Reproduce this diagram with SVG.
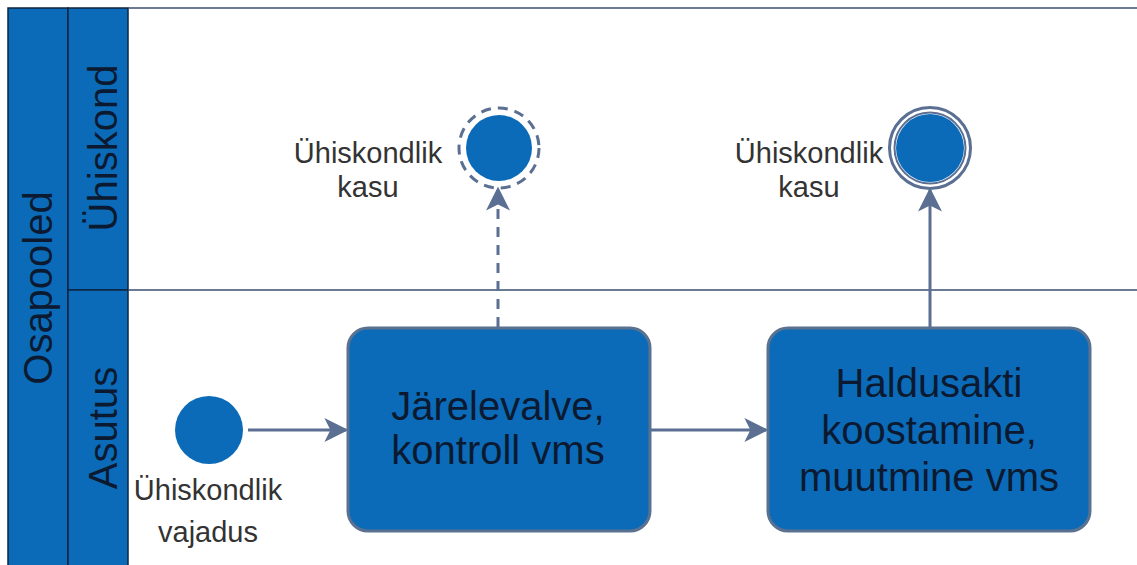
<svg xmlns="http://www.w3.org/2000/svg" width="1137" height="565" viewBox="0 0 1137 565">
<defs>
<style>
.band{fill:#0b6bb8;stroke:#0e2441;stroke-width:1.5}
.lane{fill:none;stroke:#3a4f72;stroke-width:1.5}
.lbl{font-family:"Liberation Sans",Arial,sans-serif;fill:#0b1a30;text-anchor:middle;font-size:40px}
.ext{font-family:"Liberation Sans",Arial,sans-serif;fill:#333;font-size:29px;text-anchor:middle}
.task{fill:#0b6bb8;stroke:#5a7290;stroke-width:3}
.tt{font-family:"Liberation Sans",Arial,sans-serif;fill:#0b1a30;font-size:40px;text-anchor:middle}
.ev{fill:#0b6bb8}
.flow{stroke:#5b6f92;stroke-width:3;fill:none}
</style>
<marker id="ahb" viewBox="0 0 10 10" refX="9" refY="5" markerWidth="24" markerHeight="24" markerUnits="userSpaceOnUse" orient="auto">
<path d="M0,0 L10,5 L0,10 L2.5,5 Z" fill="#5b6f92"/>
</marker>
</defs>
<rect width="1137" height="565" fill="#ffffff"/>
<g id="pool">
<rect class="band" x="8" y="8" width="60" height="570"/>
<rect class="band" x="68" y="8" width="60" height="282"/>
<rect class="band" x="68" y="290" width="60" height="288"/>
<line class="lane" x1="128" y1="8" x2="1137" y2="8"/>
<line class="lane" x1="128" y1="290" x2="1137" y2="290"/>
<text class="lbl" transform="translate(52,288) rotate(-90)">Osapooled</text>
<text class="lbl" transform="translate(117,148) rotate(-90)">Ühiskond</text>
<text class="lbl" transform="translate(117,428) rotate(-90)">Asutus</text>
</g>
<g id="connectors">
<line class="flow" x1="248" y1="430" x2="346" y2="430" marker-end="url(#ahb)"/>
<line class="flow" x1="651" y1="430" x2="766" y2="430" marker-end="url(#ahb)"/>
<line class="flow" x1="498" y1="327" x2="498" y2="189" stroke-dasharray="10,8" marker-end="url(#ahb)"/>
<line class="flow" x1="930" y1="327" x2="930" y2="190" marker-end="url(#ahb)"/>
</g>
<g id="start">
<circle class="ev" cx="209" cy="430" r="34"/>
<text class="ext" x="208" y="500">Ühiskondlik</text>
<text class="ext" x="208" y="542">vajadus</text>
</g>
<g id="task1">
<rect class="task" x="348" y="328" width="302" height="203" rx="20"/>
<text class="tt" x="498" y="420">Järelevalve,</text>
<text class="tt" x="498" y="464">kontroll vms</text>
</g>
<g id="task2">
<rect class="task" x="768" y="328" width="322" height="203" rx="20"/>
<text class="tt" x="929" y="397">Haldusakti</text>
<text class="tt" x="929" y="444">koostamine,</text>
<text class="tt" x="929" y="491">muutmine vms</text>
</g>
<g id="end1">
<circle cx="499" cy="148" r="40" fill="none" stroke="#5b6f92" stroke-width="3" stroke-dasharray="10,7"/>
<circle class="ev" cx="499" cy="148" r="33"/>
<text class="ext" x="368" y="163">Ühiskondlik</text>
<text class="ext" x="368" y="197">kasu</text>
</g>
<g id="end2">
<circle cx="930" cy="148" r="40.5" fill="none" stroke="#5b6f92" stroke-width="3"/>
<circle cx="930" cy="148" r="35.5" fill="none" stroke="#5b6f92" stroke-width="2"/>
<circle class="ev" cx="930" cy="148" r="34"/>
<text class="ext" x="809" y="163">Ühiskondlik</text>
<text class="ext" x="809" y="197">kasu</text>
</g>
</svg>
